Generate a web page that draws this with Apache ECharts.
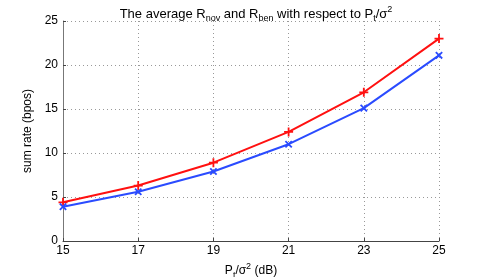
<!DOCTYPE html>
<html><head><meta charset="utf-8">
<script src="https://cdn.jsdelivr.net/npm/echarts@6/dist/echarts.min.js"></script>
<style>html,body{margin:0;padding:0;background:#fff}#c{width:485px;height:277px}</style>
</head><body><div id="c"></div>
<script>
var categories = ['15','17','19','21','23','25'];
var novValues = [4.4, 6.3, 8.9, 12.4, 16.9, 23.0];
var benValues = [3.9, 5.6, 7.9, 11.0, 15.1, 21.1];
var yTicks = [0, 5, 10, 15, 20, 25];

var plus = 'path://M-0.8,-4H0.8V-0.8H4V0.8H0.8V4H-0.8V0.8H-4V-0.8H-0.8Z';
var font = 'Liberation Sans, Arial, sans-serif';
var richStyles = {
  sub: {fontSize: 9, verticalAlign: 'bottom', lineHeight: 10, fontFamily: font, color: '#000'},
  sup: {fontSize: 9, verticalAlign: 'top', lineHeight: 10, fontFamily: font, color: '#000'}
};
var chart = echarts.init(document.getElementById('c'));
chart.setOption({
  animation: false,
  textStyle: {fontFamily: font},
  title: {
    text: 'The average R{sub|nov} and R{sub|ben} with respect to P{sub|t}/σ{sup|2}',
    left: 251, textAlign: 'center', top: 0,
    textStyle: {
      fontSize: 13, fontWeight: 'normal', color: '#000', fontFamily: font, lineHeight: 18,
      rich: richStyles
    }
  },
  grid: {left: 63, right: 46, top: 21, bottom: 36, containLabel: false, outerBoundsMode: 'none'},
  xAxis: {
    type: 'category', data: categories, boundaryGap: false,
    name: 'P{sub|t}/σ{sup|2} (dB)', nameLocation: 'middle', nameGap: 16,
    nameTextStyle: {fontSize: 12, color: '#000', fontFamily: font, lineHeight: 18, rich: richStyles},
    axisLine: {lineStyle: {color: '#444', width: 1}},
    axisTick: {inside: true, length: 3, alignWithLabel: true, lineStyle: {color: '#444'}},
    axisLabel: {color: '#000', fontSize: 12, margin: 4},
    splitLine: {show: true, lineStyle: {type: [1, 3], color: '#999'}}
  },
  yAxis: {
    type: 'value', min: 0, max: 25, interval: 5,
    name: 'sum rate (bpos)', nameLocation: 'middle', nameGap: 19,
    nameTextStyle: {fontSize: 12, color: '#000', fontFamily: font},
    axisLine: {show: true, lineStyle: {color: '#777', width: 1}},
    axisTick: {show: true, inside: true, length: 3, lineStyle: {color: '#444'}},
    axisLabel: {color: '#000', fontSize: 12, margin: 5,
      formatter: function (v) { return yTicks.indexOf(v) >= 0 ? String(v) : ''; }},
    splitLine: {show: true, lineStyle: {type: [1, 3], color: '#999'}}
  },
  series: [
    {type: 'line', name: 'Rnov', data: novValues, symbol: plus, symbolSize: 9,
     lineStyle: {color: '#ff1010', width: 2}, itemStyle: {color: '#ff1010'}},
    {type: 'line', name: 'Rben', data: benValues, symbol: plus, symbolSize: 9, symbolRotate: 45,
     lineStyle: {color: '#2a4bff', width: 2}, itemStyle: {color: '#2a4bff'}}
  ]
});
</script></body></html>
